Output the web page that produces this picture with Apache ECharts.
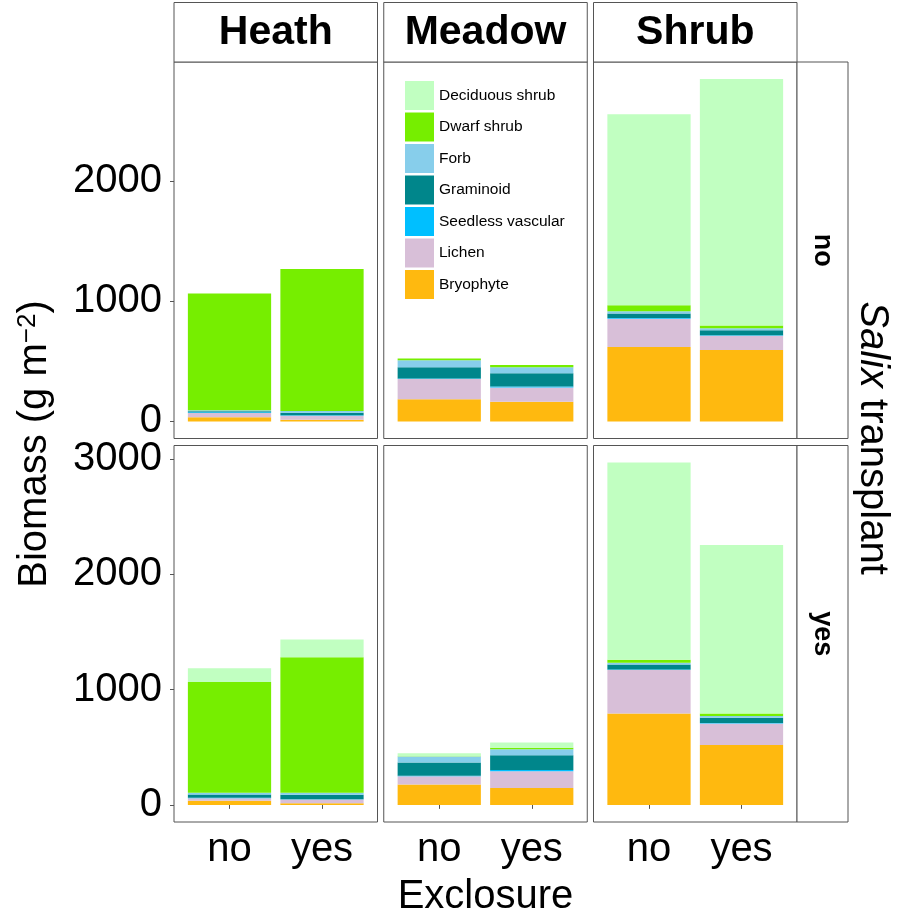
<!DOCTYPE html>
<html><head><meta charset="utf-8">
<script src="https://cdn.jsdelivr.net/npm/echarts@6/dist/echarts.min.js"></script>
<style>html,body{margin:0;padding:0;background:#fff}#c{width:900px;height:918px}</style>
</head><body><div id="c"></div>
<script>
// ---- data ----
const exclosure = ['no', 'yes'];
const habitats = ['Heath', 'Meadow', 'Shrub'];
const transplantRows = ['no', 'yes'];
const legendOrder = ['Deciduous shrub', 'Dwarf shrub', 'Forb', 'Graminoid', 'Seedless vascular', 'Lichen', 'Bryophyte'];
// order of values: transplant=no: Heath(no,yes), Meadow(no,yes), Shrub(no,yes); then transplant=yes: same
const bryophyte        = [35, 14,  185, 163,  619, 594,    35, 14,  176, 147,  792, 519];
const lichen           = [35, 33,  168, 119,  235, 119,    23, 32,   72, 144,  377, 187];
const seedlessVascular = [ 5,  3,    4,   8,    5,   4,     4,  3,    4,  12,    6,   4];
const graminoid        = [10, 22,   94, 110,   39,  41,    29, 40,  115, 127,   43,  46];
const forb             = [ 8, 14,   58,  50,   17,  17,    14, 17,   52,  52,   14,  14];
const dwarfShrub       = [970,1182, 14,  19,   50,  22,   962,1175,   3,  14,   26,  23];
const deciduousShrub   = [ 0,  0,    0,   0, 1589,2049,  118, 153,   26,  46, 1711,1461];
const yTicksTop = [0, 1000, 2000];
const yTicksBottom = [0, 1000, 2000, 3000];

// stacking order bottom -> top
const stackSpecies = [
  ['Bryophyte', bryophyte, '#FFB90F'],
  ['Lichen', lichen, '#D8BFD8'],
  ['Seedless vascular', seedlessVascular, '#00BFFF'],
  ['Graminoid', graminoid, '#00868B'],
  ['Forb', forb, '#87CEEB'],
  ['Dwarf shrub', dwarfShrub, '#76EE00'],
  ['Deciduous shrub', deciduousShrub, '#C1FFC1']
];

// ---- layout ----
const FONT = '"Liberation Sans", Arial, sans-serif';
const panelLeft0 = 174, panelStep = 209.75, panelW = 203.5;
const panelTops = [62, 445.5], panelH = 376.5;
const inset = panelW * 0.1 / 2.2;

const grids = [], xAxes = [], yAxes = [], series = [], graphics = [];

for (let r = 0; r < 2; r++) {
  let M = 0;
  for (let k = 0; k < 6; k++) {
    let t = 0;
    stackSpecies.forEach(s => t += s[1][r * 6 + k]);
    M = Math.max(M, t);
  }
  const yMin = -0.05 * M, yMax = 1.05 * M;
  const ticks = r === 0 ? yTicksTop : yTicksBottom;
  for (let c = 0; c < 3; c++) {
    const gi = r * 3 + c;
    const pl = panelLeft0 + c * panelStep;
    grids.push({left: pl + inset, top: panelTops[r], width: panelW - 2 * inset, height: panelH});
    xAxes.push({
      type: 'category', gridIndex: gi, data: exclosure,
      axisLine: {show: false},
      axisTick: {show: r === 1, alignWithLabel: true, length: 4, lineStyle: {color: '#555'}},
      axisLabel: {show: r === 1, fontSize: 40, color: '#000', fontFamily: FONT, margin: 8}
    });
    yAxes.push({
      type: 'value', gridIndex: gi, min: yMin, max: yMax, offset: inset,
      axisLine: {show: false}, splitLine: {show: false},
      axisTick: {show: c === 0, length: 4, lineStyle: {color: '#555'}, customValues: ticks},
      axisLabel: {show: c === 0, fontSize: 40, color: '#000', fontFamily: FONT, margin: 12, customValues: ticks,
        formatter: v => String(Math.round(v))}
    });
    stackSpecies.forEach(s => {
      series.push({
        type: 'bar', name: s[0], stack: 'p' + gi, xAxisIndex: gi, yAxisIndex: gi,
        data: [s[1][r * 6 + c * 2], s[1][r * 6 + c * 2 + 1]],
        barWidth: '90%', itemStyle: {color: s[2]}, emphasis: {disabled: true}
      });
    });
    graphics.push({type: 'rect', z: 100, shape: {x: pl, y: panelTops[r], width: panelW, height: panelH},
      style: {fill: 'none', stroke: '#555', lineWidth: 1}});
  }
  graphics.push({type: 'rect', z: 100, shape: {x: panelLeft0 + 2 * panelStep + panelW, y: panelTops[r], width: 51, height: panelH},
    style: {fill: '#fff', stroke: '#555', lineWidth: 1}});
  graphics.push({type: 'text', z: 101, x: panelLeft0 + 2 * panelStep + panelW + 25.5, y: panelTops[r] + panelH / 2,
    rotation: -Math.PI / 2,
    style: {text: transplantRows[r], fontSize: 27, fontWeight: 'bold', fontFamily: FONT, fill: '#000', align: 'center', verticalAlign: 'middle'}});
}
for (let c = 0; c < 3; c++) {
  const pl = panelLeft0 + c * panelStep;
  graphics.push({type: 'rect', z: 100, shape: {x: pl, y: 2.5, width: panelW, height: 59.5},
    style: {fill: '#fff', stroke: '#555', lineWidth: 1}});
  graphics.push({type: 'text', z: 101, x: pl + panelW / 2, y: 33,
    style: {text: habitats[c], fontSize: 41, fontWeight: 'bold', fontFamily: FONT, fill: '#000', align: 'center', verticalAlign: 'middle'}});
}
graphics.push({type: 'text', z: 101, x: 485.5, y: 897,
  style: {text: 'Exclosure', fontSize: 40, fontFamily: FONT, fill: '#000', align: 'center', verticalAlign: 'middle'}});
graphics.push({type: 'text', z: 101, x: 35, y: 444, rotation: Math.PI / 2,
  style: {text: 'Biomass (g m{sup|−2})', fontSize: 40, fontFamily: FONT, fill: '#000', align: 'center', verticalAlign: 'middle',
    rich: {sup: {fontSize: 26, fontFamily: FONT, fill: '#000', verticalAlign: 'top', padding: [0, 0, 14, 0]}}}});
graphics.push({type: 'text', z: 101, x: 872, y: 438, rotation: -Math.PI / 2,
  style: {text: '{i|Salix} transplant', fontSize: 40, fontFamily: FONT, fill: '#000', align: 'center', verticalAlign: 'middle',
    rich: {i: {fontSize: 40, fontFamily: FONT, fontStyle: 'italic', fill: '#000'}}}});

const chart = echarts.init(document.getElementById('c'), null, {renderer: 'canvas'});
chart.setOption({
  animation: false,
  backgroundColor: '#fff',
  legend: {
    data: legendOrder, orient: 'vertical', left: 405, top: 81, padding: 0,
    itemWidth: 29, itemHeight: 29, itemGap: 2.5, icon: 'rect', selectedMode: false,
    textStyle: {fontSize: 15.5, fontFamily: FONT, color: '#000'}
  },
  grid: grids, xAxis: xAxes, yAxis: yAxes, series: series, graphic: graphics
});
</script></body></html>
